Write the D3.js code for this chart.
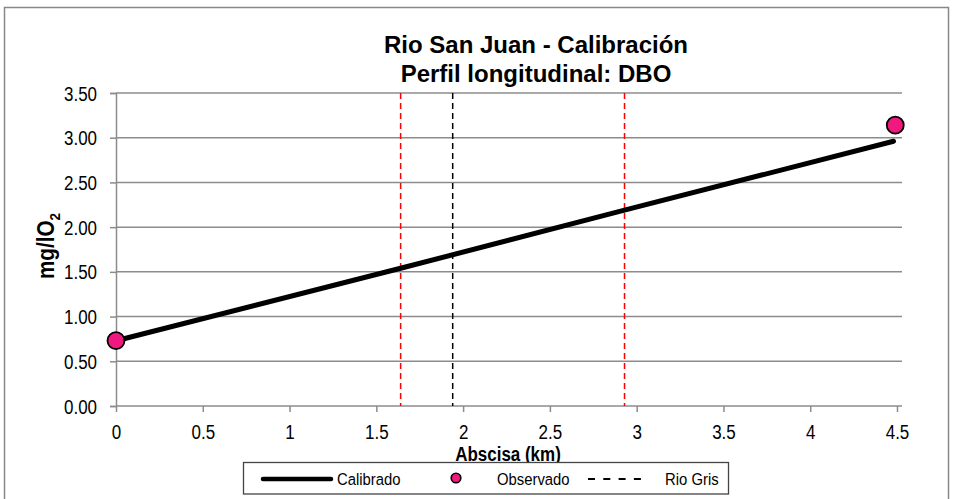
<!DOCTYPE html>
<html><head><meta charset="utf-8">
<script src="https://cdn.jsdelivr.net/npm/d3@7"></script>
<style>
body{margin:0;background:#fff;}
text{font-family:"Liberation Sans",Arial,sans-serif;}
</style></head>
<body><svg id="c" width="953" height="499"></svg>
<script>
const calX = [0, 1.64, 2.93, 4.48];
const calY = [0.73, 1.54, 2.19, 2.96];
const obsX = [0, 4.49];
const obsY = [0.73, 3.14];
const rioGrisX = [1.94];
const limitsX = [1.64, 2.93];
const xTicks = [0, 0.5, 1, 1.5, 2, 2.5, 3, 3.5, 4, 4.5];
const yTicks = [0, 0.5, 1, 1.5, 2, 2.5, 3, 3.5];

const svg = d3.select("#c");
const x = d3.scaleLinear().domain([0, 4.5]).range([116, 897]);
const y = d3.scaleLinear().domain([0, 3.5]).range([406, 93]);
const NX = 0.87;

svg.append("rect").attr("x",4.5).attr("y",7.5).attr("width",944).attr("height",500)
  .attr("fill","none").attr("stroke","#888").attr("stroke-width",1.5);

// gridlines
svg.append("g").selectAll("line").data(yTicks.filter(d=>d>0)).join("line")
  .attr("x1",116).attr("x2",902).attr("y1",d=>y(d)).attr("y2",d=>y(d))
  .attr("stroke","#8c8c8c").attr("stroke-width",1.5);

// y axis
const ya = svg.append("g").attr("transform","translate(116,0)")
  .call(d3.axisLeft(y).tickValues(yTicks).tickFormat(d3.format(".2f")).tickSize(6));
ya.select(".domain").attr("stroke","#8c8c8c").attr("stroke-width",1.5);
ya.selectAll(".tick line").attr("stroke","#8c8c8c").attr("stroke-width",1.5);
ya.selectAll(".tick text").attr("font-size",19.5).attr("fill","#000")
  .attr("font-family",'"Liberation Sans",Arial,sans-serif')
  .attr("x",0).attr("dy","0.36em").attr("text-anchor","end")
  .attr("transform",`translate(-19,0) scale(${NX},1)`);

// x axis
const xa = svg.append("g").attr("transform","translate(0,406)")
  .call(d3.axisBottom(x).tickValues(xTicks).tickFormat(d3.format("")).tickSize(6));
xa.select(".domain").attr("d","M116,0H902").attr("stroke","#8c8c8c").attr("stroke-width",1.5);
xa.selectAll(".tick line").attr("stroke","#8c8c8c").attr("stroke-width",1.5);
xa.selectAll(".tick text").attr("font-size",19.5).attr("fill","#000")
  .attr("font-family",'"Liberation Sans",Arial,sans-serif')
  .attr("y",33).attr("dy",null).attr("transform",`scale(${NX},1)`);

// vertical reference lines
svg.append("g").selectAll("line").data(limitsX).join("line")
  .attr("x1",d=>x(d)).attr("x2",d=>x(d)).attr("y1",93).attr("y2",406)
  .attr("stroke","#ff0000").attr("stroke-width",1.5).attr("stroke-dasharray","6,4");
svg.append("g").selectAll("line").data(rioGrisX).join("line")
  .attr("x1",d=>x(d)).attr("x2",d=>x(d)).attr("y1",93).attr("y2",406)
  .attr("stroke","#000").attr("stroke-width",1.5).attr("stroke-dasharray","6,4");

// calibrated line
const line = d3.line().x(d=>x(d[0])).y(d=>y(d[1]));
svg.append("path").datum(calX.map((v,i)=>[v,calY[i]])).attr("d",line)
  .attr("fill","none").attr("stroke","#000").attr("stroke-width",5).attr("stroke-linecap","round");

// observed
svg.append("g").selectAll("circle").data(obsX.map((v,i)=>[v,obsY[i]])).join("circle")
  .attr("cx",d=>x(d[0])).attr("cy",d=>y(d[1])).attr("r",8.5)
  .attr("fill","#f0197f").attr("stroke","#000").attr("stroke-width",1.8);

// titles
svg.append("text").attr("x",536).attr("y",53).attr("text-anchor","middle")
  .attr("font-size",24).attr("font-weight","bold").text("Rio San Juan - Calibración");
svg.append("text").attr("x",536).attr("y",82).attr("text-anchor","middle")
  .attr("font-size",24).attr("font-weight","bold").text("Perfil longitudinal: DBO");
svg.append("text").attr("transform",`translate(508,461) scale(${NX},1)`).attr("text-anchor","middle")
  .attr("font-size",19.5).attr("font-weight","bold").text("Abscisa (km)");
const yl = svg.append("text").attr("transform","translate(54,246) rotate(-90) scale(0.9,1)").attr("text-anchor","middle")
  .attr("font-size",23).attr("font-weight","bold");
yl.append("tspan").text("mg/lO");
yl.append("tspan").attr("font-size",15).attr("dy",6).text("2");

// legend
const lg = svg.append("g");
lg.append("rect").attr("x",243.5).attr("y",462.5).attr("width",485).attr("height",31.5)
  .attr("fill","#fff").attr("stroke","#444").attr("stroke-width",1.3);
lg.append("line").attr("x1",263).attr("x2",331).attr("y1",479).attr("y2",479)
  .attr("stroke","#000").attr("stroke-width",4.5).attr("stroke-linecap","round");
const lt = (tx, s) => lg.append("text").attr("transform",`translate(${tx},485) scale(0.9,1)`)
  .attr("font-size",16.5).text(s);
lt(337, "Calibrado");
lg.append("circle").attr("cx",456).attr("cy",478).attr("r",4.8)
  .attr("fill","#f0197f").attr("stroke","#000").attr("stroke-width",1.6);
lt(497, "Observado");
lg.append("line").attr("x1",588).attr("x2",648).attr("y1",479).attr("y2",479)
  .attr("stroke","#000").attr("stroke-width",2).attr("stroke-dasharray","7,8.3");
lt(665, "Rio Gris");
</script></body></html>
